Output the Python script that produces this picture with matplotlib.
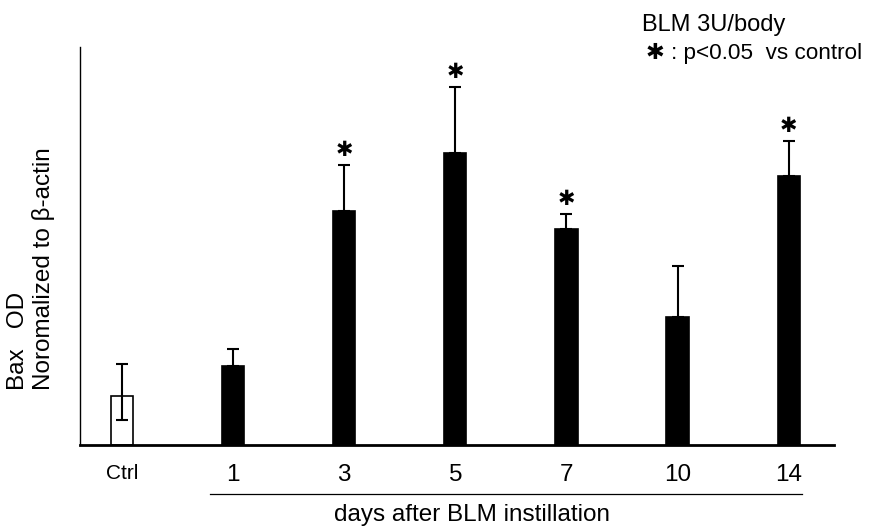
import matplotlib.pyplot as plt
import matplotlib.transforms as mtransforms

plt.rcParams['font.family'] = ['Liberation Sans', 'DejaVu Sans']

# data (OD normalized to beta-actin, arbitrary units)
labels = ['Ctrl', '1', '3', '5', '7', '10', '14']
values = [0.49, 0.79, 2.34, 2.92, 2.16, 1.28, 2.69]
err_up = [0.32, 0.17, 0.46, 0.66, 0.15, 0.51, 0.35]
err_down = [0.24, 0, 0, 0, 0, 0, 0]
significant = [False, False, True, True, True, False, True]

fig = plt.figure(figsize=(8.79, 5.29), dpi=100)
ax = fig.add_axes([0.091, 0.159, 0.858, 0.752])

x = list(range(len(labels)))
colors = ['white'] + ['black'] * (len(labels) - 1)
ax.bar(x, values, width=0.2, color=colors, edgecolor='black', linewidth=1.2, zorder=2)
ax.errorbar(x, values, yerr=[err_down, err_up], fmt='none', ecolor='black',
            elinewidth=1.5, capsize=4, capthick=1.5, zorder=3)

for xi, v, e, s in zip(x, values, err_up, significant):
    if s:
        ax.text(xi, v + e + 0.05, '\u2731', ha='center', va='bottom', fontsize=15)

ax.set_xlim(-0.378, 6.41)
ax.set_ylim(0, 3.98)
ax.set_xticks(x)
ax.set_xticklabels(labels, fontsize=17.5)
ax.get_xticklabels()[0].set_fontsize(15)
ax.tick_params(axis='x', length=0, pad=14)
ax.set_yticks([])
for side in ['top', 'right']:
    ax.spines[side].set_visible(False)
ax.spines['left'].set_linewidth(1.0)
ax.spines['bottom'].set_linewidth(2.0)

# line under day labels + caption
trans = mtransforms.blended_transform_factory(ax.transData, fig.transFigure)
ax.plot([0.79, 6.12], [1 - 494 / 529] * 2, color='black', lw=0.9,
        transform=trans, clip_on=False)
fig.text(472 / 879, 1 - 515 / 529, 'days after BLM instillation',
         ha='center', va='center', fontsize=17.5)

fig.text(31 / 879, 1 - 390 / 529, 'Bax   OD\nNoromalized to \u03b2-actin',
         rotation=90, ha='center', va='bottom', multialignment='left',
         fontsize=17.5, linespacing=1.2)

fig.text(642 / 879, 1 - 25 / 529, 'BLM 3U/body', ha='left', va='center', fontsize=17)
fig.text(646 / 879, 1 - 53 / 529, '\u2731 : p<0.05  vs control', ha='left',
         va='center', fontsize=16.2)

fig.savefig('out.png', dpi=100)
